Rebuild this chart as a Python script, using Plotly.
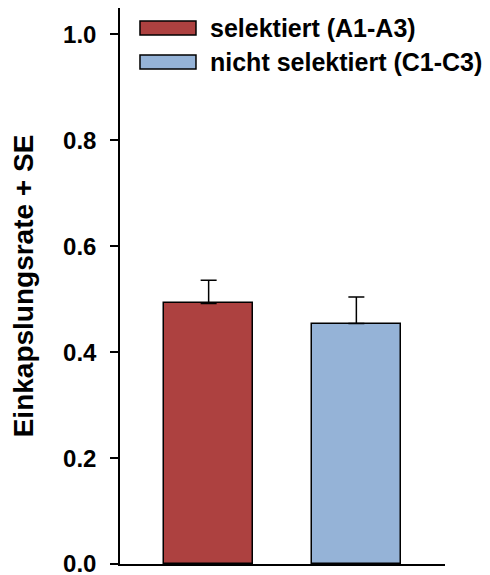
import plotly.graph_objects as go

# data
groups = ["selektiert (A1-A3)", "nicht selektiert (C1-C3)"]
rates = [0.492, 0.454]
se = [0.044, 0.050]
colors = ["#AD4140", "#95B3D7"]
y_ticks = [0.0, 0.2, 0.4, 0.6, 0.8, 1.0]
y_ticklabels = ["0.0", "0.2", "0.4", "0.6", "0.8", "1.0"]

FONT = "Liberation Sans, Arial, sans-serif"

fig = go.Figure()
fig.add_trace(go.Bar(
    x=[0, 1],
    y=rates,
    width=0.6,
    marker=dict(color=colors, line=dict(color="black", width=1.5)),
    error_y=dict(type="data", array=se, arrayminus=[0, 0], symmetric=False,
                 color="black", thickness=1.5, width=8),
    showlegend=False,
))

# hand-made legend with wide swatches
rows_y = [(0.9514, 0.9766, 0.964), (0.8903, 0.9155, 0.903)]
for name, col, (y0, y1, yt) in zip(groups, colors, rows_y):
    fig.add_shape(type="rect", xref="paper", yref="paper",
                  x0=0.0615, x1=0.2338, y0=y0, y1=y1,
                  fillcolor=col, line=dict(color="black", width=1.5))
    fig.add_annotation(text="<b>%s</b>" % name, xref="paper", yref="paper",
                       x=0.271, y=yt, xanchor="left", yanchor="middle",
                       showarrow=False, font=dict(size=25, color="black"))

# the page body adds an 8px offset, margins make up for it
fig.update_layout(
    width=490, height=575,
    margin=dict(l=112, r=53, t=0, b=19),
    plot_bgcolor="white", paper_bgcolor="white",
    font=dict(family=FONT, color="black"),
    bargap=0,
)
fig.update_xaxes(range=[-0.6, 1.6], showticklabels=False, ticks="",
                 showline=True, linecolor="black", linewidth=1.5,
                 showgrid=False, zeroline=False, automargin=False)
fig.update_yaxes(range=[0, 1.05], tickvals=y_ticks, ticktext=["<b>%s</b>" % t for t in y_ticklabels],
                 ticks="outside", ticklen=8, tickwidth=1.5, tickcolor="black",
                 ticklabelstandoff=9, tickfont=dict(size=24),
                 showline=True, linecolor="black", linewidth=1.5,
                 showgrid=False, zeroline=False, automargin=False,
                 title=dict(text="<b>Einkapslungsrate + SE</b>", font=dict(size=28), standoff=23))

fig.write_html("out.html")
